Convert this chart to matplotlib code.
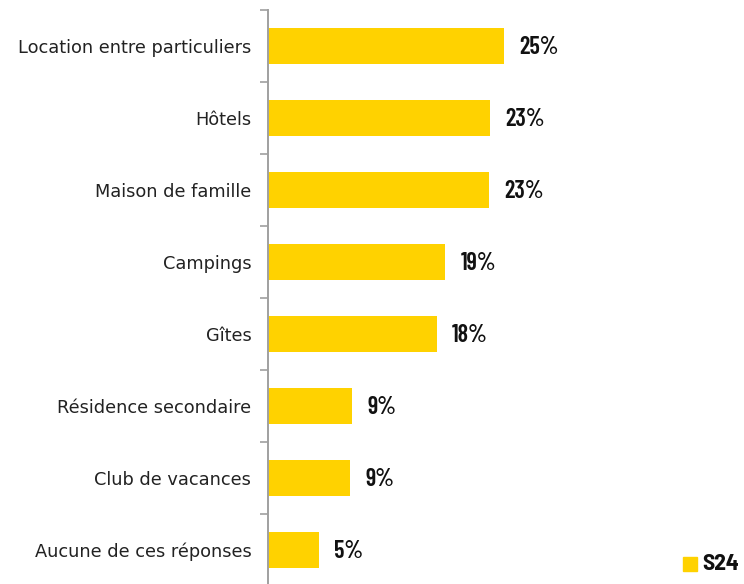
import matplotlib

matplotlib.use("Agg")
import matplotlib.pyplot as plt
from matplotlib.patches import Rectangle

# Survey answers, top to bottom as drawn
categories = [
    "Location entre particuliers",
    "Hôtels",
    "Maison de famille",
    "Campings",
    "Gîtes",
    "Résidence secondaire",
    "Club de vacances",
    "Aucune de ces réponses",
]
values = [25.0, 23.5, 23.4, 18.8, 17.9, 8.9, 8.7, 5.4]
value_labels = ["25%", "23%", "23%", "19%", "18%", "9%", "9%", "5%"]
series_name = "S24"

BAR = "#FFD200"
AXIS = "#A0A0A0"
NUM_FONT = ["Barlow Condensed", "DejaVu Sans"]
LEG_FONT = ["Barlow Semi Condensed", "DejaVu Sans"]

W, H = 744, 584
fig = plt.figure(figsize=(W / 100, H / 100), dpi=100, facecolor="white")
# axes placed in pixel terms: spine at x=268, category bands 72 px tall from y=10
left, top, band = 268, 10, 72
n = len(categories)
bottom_px = top + band * n
ax = fig.add_axes([left / W, (H - bottom_px) / H, 283 / W, band * n / H])

ypos = list(range(n))
ax.barh(ypos, values, height=0.5, color=BAR, zorder=2)
ax.set_ylim(n - 0.5, -0.5)
ax.set_xlim(0, 30)

for y, v, lab in zip(ypos, values, value_labels):
    ax.text(v + 1.6, y + 0.02, lab, va="center", ha="left", fontsize=17.5,
            fontweight=600, family=NUM_FONT, color="#111111")

# category names as plain text, boundary ticks as minor ticks
ax.set_yticks(ypos)
ax.set_yticklabels(categories, fontsize=12.8, color="#222222")
ax.tick_params(axis="y", which="major", length=0, pad=12)
ax.set_yticks([i - 0.5 for i in range(n + 1)], minor=True)
ax.tick_params(axis="y", which="minor", length=6, width=1.2, color=AXIS,
               direction="out")
ax.set_xticks([])
for side in ("top", "right", "bottom"):
    ax.spines[side].set_visible(False)
ax.spines["left"].set_color(AXIS)
ax.spines["left"].set_linewidth(1.4)

# legend in the bottom-right corner
fig.patches.append(Rectangle((683 / W, (H - 571) / H), 14 / W, 14 / H,
                             transform=fig.transFigure, color=BAR))
fig.text(702 / W, (H - 564) / H, series_name, va="center", ha="left",
         fontsize=17, fontweight=700, family=LEG_FONT, color="#111111")

fig.savefig("out.png", dpi=100, facecolor="white")
